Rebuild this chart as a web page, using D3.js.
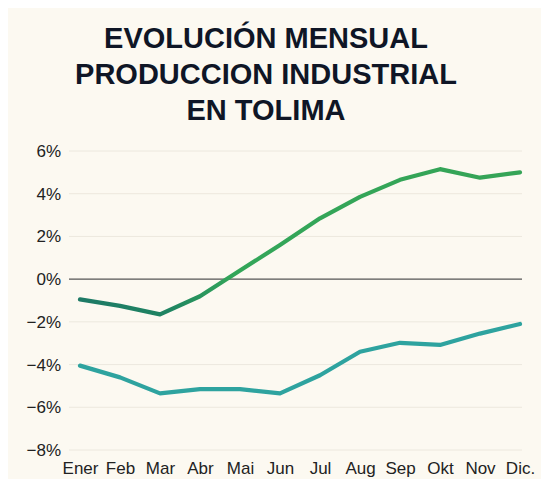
<!DOCTYPE html>
<html>
<head>
<meta charset="utf-8">
<script src="https://cdn.jsdelivr.net/npm/d3@7"></script>
<style>
  body { margin: 0; background: #ffffff; }
  text { font-family: "Liberation Sans", Arial, sans-serif; }
</style>
</head>
<body>
<svg id="chart"></svg>
<script>
// chart data
var months = ["Ener", "Feb", "Mar", "Abr", "Mai", "Jun", "Jul", "Aug", "Sep", "Okt", "Nov", "Dic."];
var serieAlta = [-0.95, -1.25, -1.65, -0.8, 0.4, 1.6, 2.85, 3.85, 4.65, 5.15, 4.75, 5.0];
var serieBaja = [-4.05, -4.6, -5.35, -5.15, -5.15, -5.35, -4.5, -3.4, -2.98, -3.08, -2.55, -2.1];
var yTicks = [6, 4, 2, 0, -2, -4, -6, -8];
var titleLines = ["EVOLUCIÓN MENSUAL", "PRODUCCION INDUSTRIAL", "EN TOLIMA"];

var width = 547, height = 487;

var svg = d3.select("#chart").attr("width", width).attr("height", height);

// cream panel
svg.append("rect")
  .attr("x", 8).attr("y", 8)
  .attr("width", 533).attr("height", 471)
  .attr("fill", "#fcf9f1");

// title
svg.append("g")
  .selectAll("text")
  .data(titleLines)
  .join("text")
  .attr("x", 266)
  .attr("y", (d, i) => 48 + i * 36)
  .attr("text-anchor", "middle")
  .attr("font-size", 29)
  .attr("font-weight", "bold")
  .attr("fill", "#0f1626")
  .text(d => d);

// scales
var x = d3.scalePoint()
  .domain(months)
  .range([80, 520]);

var y = d3.scaleLinear()
  .domain([-8, 6])
  .range([450, 151]);

// grid lines
svg.append("g")
  .selectAll("line")
  .data(yTicks.filter(d => d != 0))
  .join("line")
  .attr("x1", 69).attr("x2", 522)
  .attr("y1", d => y(d)).attr("y2", d => y(d))
  .attr("stroke", "#ece8de")
  .attr("stroke-width", 1);

// y axis labels
var yAxis = svg.append("g")
  .attr("transform", "translate(61,0)")
  .call(d3.axisLeft(y).tickValues(yTicks).tickSize(0).tickPadding(0)
    .tickFormat(d => (d < 0 ? "\u2212" + Math.abs(d) : d) + "%"));
yAxis.select(".domain").remove();
yAxis.selectAll("text")
  .attr("font-size", 17)
  .attr("fill", "#222")
  .style("font-family", "'Liberation Sans', Arial, sans-serif");

// x axis labels
var xAxis = svg.append("g")
  .attr("transform", "translate(0,462)")
  .call(d3.axisBottom(x).tickSize(0).tickPadding(0));
xAxis.select(".domain").remove();
xAxis.selectAll("text")
  .attr("font-size", 17)
  .attr("fill", "#222")
  .style("font-family", "'Liberation Sans', Arial, sans-serif");

// zero line
svg.append("line")
  .attr("x1", 69).attr("x2", 522)
  .attr("y1", y(0)).attr("y2", y(0))
  .attr("stroke", "#555")
  .attr("stroke-width", 1.2);

// gradient for the upper line
var defs = svg.append("defs");
var grad = defs.append("linearGradient")
  .attr("id", "gradAlta")
  .attr("gradientUnits", "userSpaceOnUse")
  .attr("x1", x("Ener")).attr("x2", x("Dic."))
  .attr("y1", 0).attr("y2", 0);
grad.append("stop").attr("offset", "0%").attr("stop-color", "#1e7a66");
grad.append("stop").attr("offset", "20%").attr("stop-color", "#1f8462");
grad.append("stop").attr("offset", "35%").attr("stop-color", "#33a659");
grad.append("stop").attr("offset", "100%").attr("stop-color", "#35a457");

var line = d3.line()
  .x((d, i) => x(months[i]))
  .y(d => y(d));

svg.append("path")
  .datum(serieBaja)
  .attr("d", line)
  .attr("fill", "none")
  .attr("stroke", "#2ea39f")
  .attr("stroke-width", 4.2)
  .attr("stroke-linejoin", "round")
  .attr("stroke-linecap", "round");

svg.append("path")
  .datum(serieAlta)
  .attr("d", line)
  .attr("fill", "none")
  .attr("stroke", "url(#gradAlta)")
  .attr("stroke-width", 4.2)
  .attr("stroke-linejoin", "round")
  .attr("stroke-linecap", "round");
</script>
</body>
</html>
